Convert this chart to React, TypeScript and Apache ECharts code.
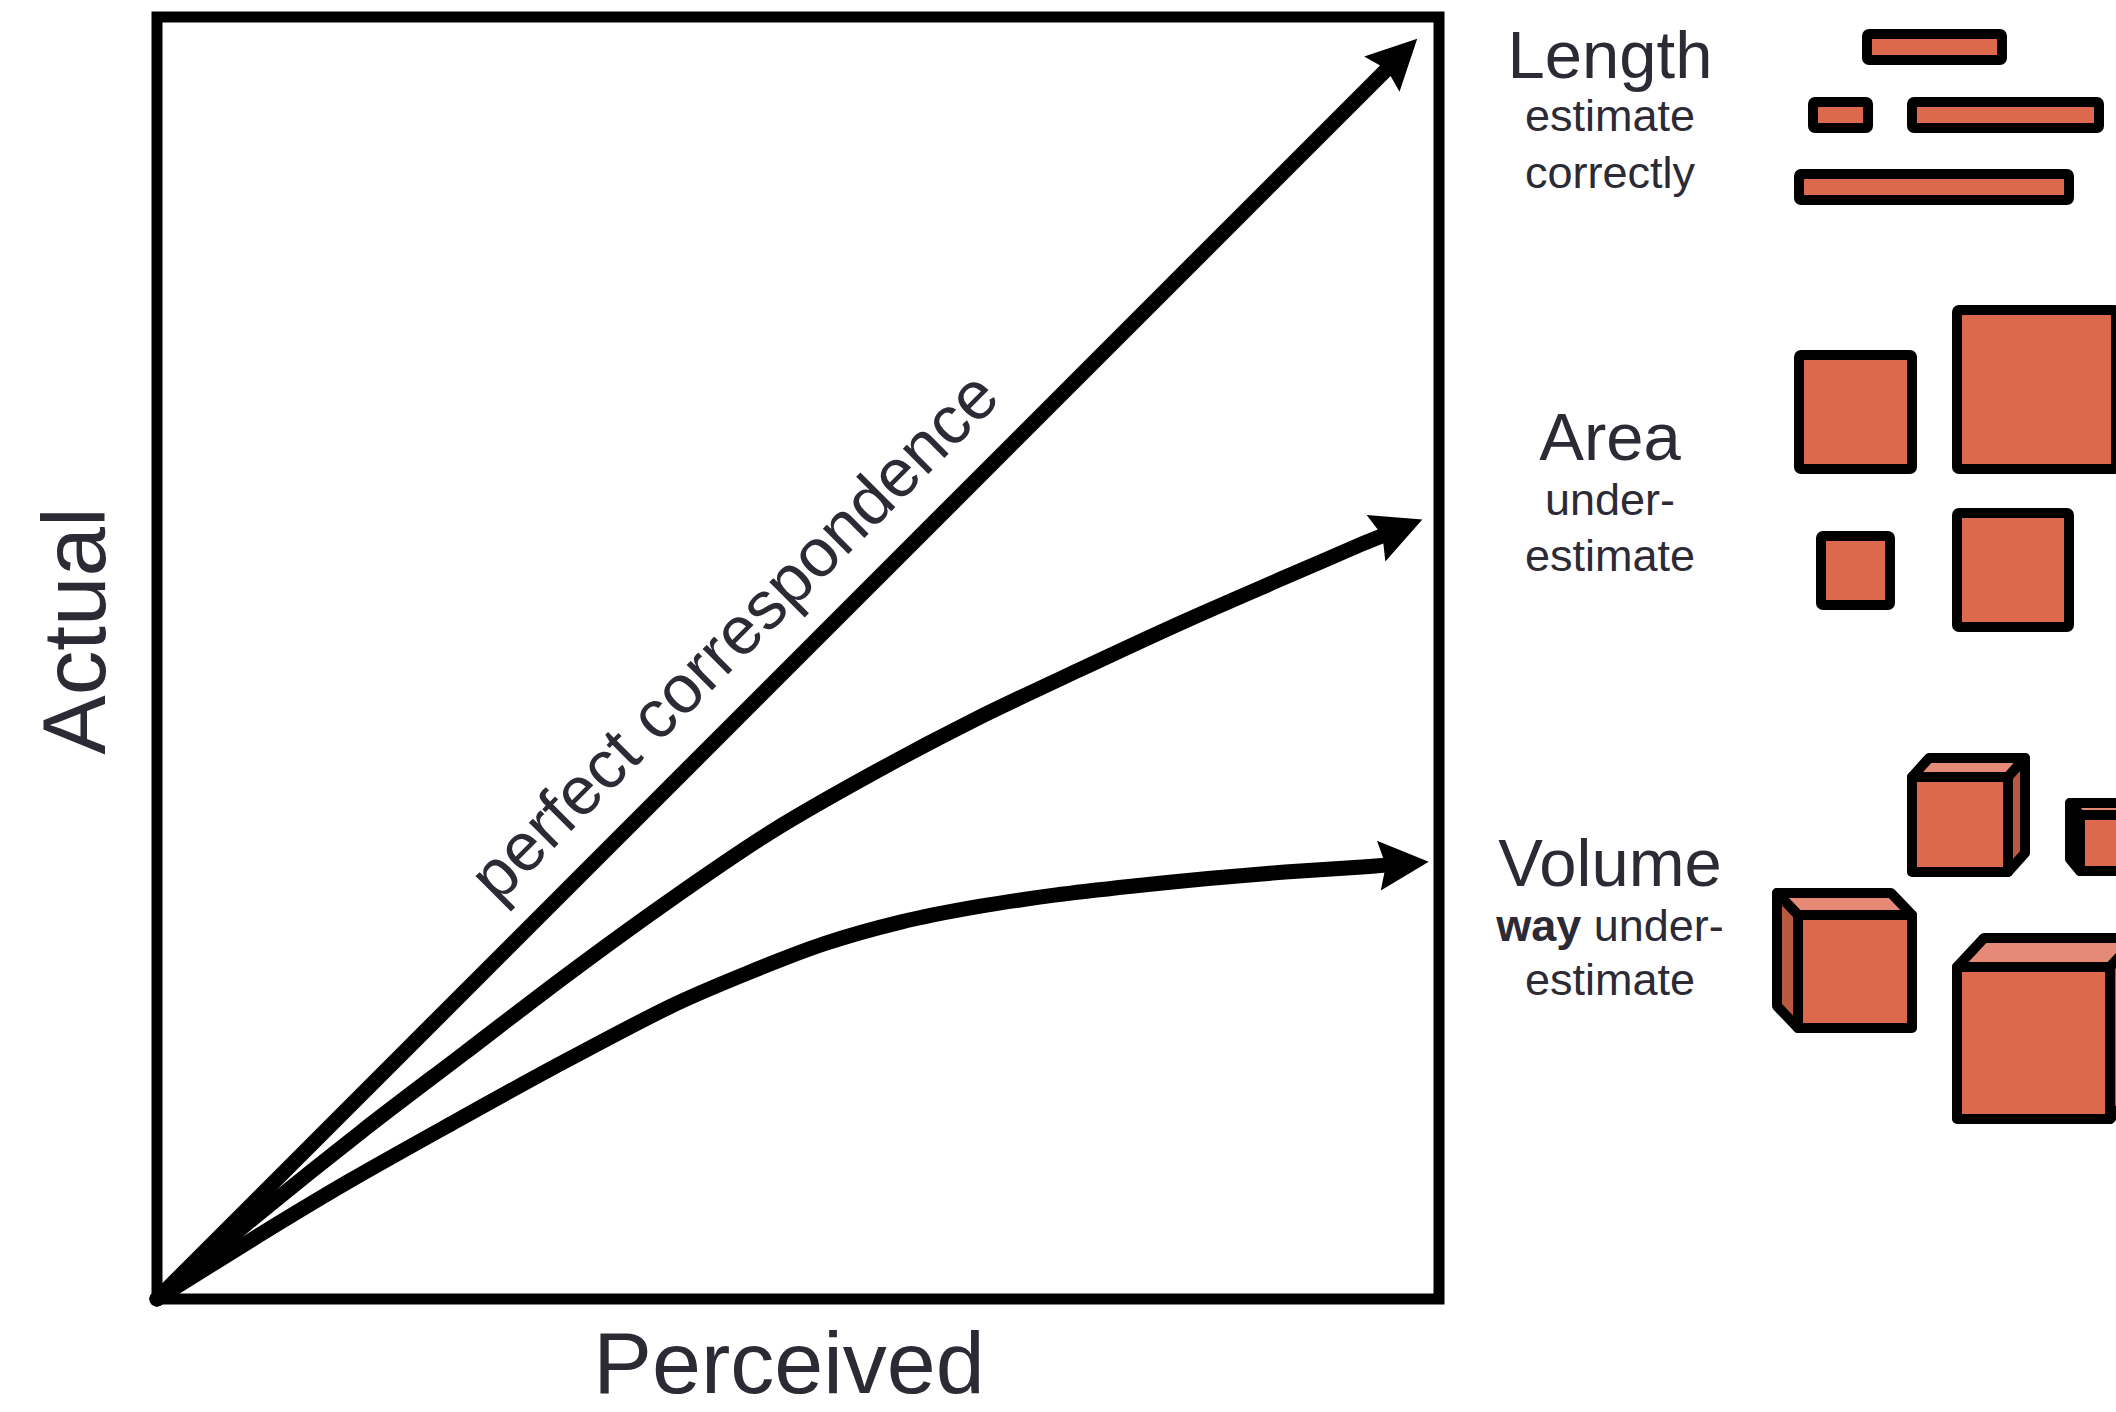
import React, { useEffect, useRef } from "react";
import * as echarts from "echarts";

// ---- data (unit square: 0 = origin, 1 = full scale) ----
const perfectCurve: number[][] = [
  [0, 0],
  [0.983, 0.983],
];
const areaCurve: number[][] = [
  [0, 0], [0.08, 0.067], [0.16, 0.131], [0.24, 0.192], [0.32, 0.253],
  [0.4, 0.311], [0.48, 0.365], [0.56, 0.411], [0.64, 0.453], [0.72, 0.491],
  [0.8, 0.528], [0.88, 0.563], [0.94, 0.589], [0.987, 0.608],
];
const volumeCurve: number[][] = [
  [0, 0], [0.08, 0.05], [0.15, 0.092], [0.23, 0.137], [0.31, 0.181],
  [0.4, 0.228], [0.46, 0.254], [0.52, 0.277], [0.58, 0.294], [0.64, 0.306],
  [0.7, 0.315], [0.76, 0.322], [0.82, 0.328], [0.88, 0.333], [0.94, 0.337],
  [0.992, 0.341],
];
const curves = [perfectCurve, areaCurve, volumeCurve];

const xTitle = "Perceived";
const yTitle = "Actual";
const diagonalLabel = "perfect correspondence";
const diagonalLabelAt = [0.4836, 0.4836];

const legendTitles = ["Length", "Area", "Volume"];
const legendNotes = [
  ["estimate", "correctly"],
  ["under-", "estimate"],
  ["{b|way} under-", "estimate"],
];

const INK = "#2b2a35";
const FONT = "'Liberation Sans', Arial, Helvetica, sans-serif";
const FILL = "#dc694c";
const TOP = "#e48a77";
const SIDE = "#b75a40";

function buildGraphics(): any[] {
  const g: any[] = [];
  const titleY = [54, 436, 862];
  const noteY = [
    [115, 172],
    [499, 555],
    [925, 979],
  ];
  legendTitles.forEach((t, i) => {
    g.push({
      type: "text", x: 1610, y: titleY[i],
      style: { text: t, fontSize: 67, fontFamily: FONT, fill: INK, align: "center", verticalAlign: "middle" },
    });
    legendNotes[i].forEach((n, j) => {
      g.push({
        type: "text", x: 1610, y: noteY[i][j],
        style: {
          text: n, fontSize: 45, fontFamily: FONT, fill: INK, align: "center", verticalAlign: "middle",
          rich: { b: { fontSize: 45, fontFamily: FONT, fill: INK, fontWeight: "bold" } },
        },
      });
    });
  });
  const box = (x: number, y: number, w: number, h: number) => ({
    type: "rect",
    shape: { x, y, width: w, height: h, r: 2 },
    style: { fill: FILL, stroke: "#000", lineWidth: 10, lineJoin: "round" },
  });
  // length bars
  g.push(box(1867, 34, 135, 26));
  g.push(box(1813, 102, 55, 26));
  g.push(box(1912, 102, 187, 26));
  g.push(box(1799, 174, 270, 26));
  // area squares
  g.push(box(1799, 355, 113, 114));
  g.push(box(1957, 310, 159, 159));
  g.push(box(1821, 536, 69, 69));
  g.push(box(1957, 513, 112, 114));
  // cubes
  const poly = (pts: number[][], fill: string) => ({
    type: "polygon",
    shape: { points: pts },
    style: { fill, stroke: "#000", lineWidth: 10, lineJoin: "round" },
  });
  const cube = (x0: number, y0: number, x1: number, y1: number, dx: number, dy: number) => {
    const top = [[x0, y0], [x1, y0], [x1 + dx, y0 + dy], [x0 + dx, y0 + dy]];
    const side =
      dx > 0
        ? [[x1, y0], [x1 + dx, y0 + dy], [x1 + dx, y1 + dy], [x1, y1]]
        : [[x0, y0], [x0 + dx, y0 + dy], [x0 + dx, y1 + dy], [x0, y1]];
    g.push(poly(top, TOP));
    g.push(poly(side, SIDE));
    g.push(poly([[x0, y0], [x1, y0], [x1, y1], [x0, y1]], FILL));
  };
  cube(1912, 777, 2008, 872, 17, -19);
  cube(2080, 815, 2175, 871, -10, -12);
  cube(1798, 915, 1912, 1028, -21, -22);
  cube(1957, 967, 2110, 1119, 27, -29);
  return g;
}

export default function App() {
  const ref = useRef<HTMLDivElement>(null);
  useEffect(() => {
    document.body.style.margin = "0";
    const chart = echarts.init(ref.current!, null, { renderer: "svg" });
    const option: any = {
      animation: false,
      backgroundColor: "#ffffff",
      grid: {
        show: true, left: 157, top: 17, width: 1282, height: 1282,
        containLabel: false, outerBoundsMode: "none",
        borderColor: "#000", borderWidth: 11, backgroundColor: "transparent",
      },
      xAxis: {
        type: "value", min: 0, max: 1,
        axisLine: { show: false }, axisTick: { show: false }, axisLabel: { show: false }, splitLine: { show: false },
        name: xTitle, nameLocation: "middle", nameGap: 19,
        nameTextStyle: { fontSize: 88, fontFamily: FONT, color: INK, padding: [0, 18, 0, 0] },
      },
      yAxis: {
        type: "value", min: 0, max: 1,
        axisLine: { show: false }, axisTick: { show: false }, axisLabel: { show: false }, splitLine: { show: false },
        name: yTitle, nameLocation: "middle", nameGap: 39, nameRotate: 90,
        nameTextStyle: { fontSize: 89, fontFamily: FONT, color: INK, padding: [0, 0, 0, 54] },
      },
      series: [
        {
          type: "custom",
          coordinateSystem: "cartesian2d",
          data: curves.map((_, i) => [i]),
          encode: { x: 0 },
          renderItem: (params: any, api: any) => {
            const c = curves[api.value(0) as number];
            const px = c.map((p) => api.coord(p));
            const tip = px[px.length - 1];
            const L = 50, HW = 25, notch = 7;
            let k = px.length - 2;
            while (k > 0 && Math.hypot(tip[0] - px[k][0], tip[1] - px[k][1]) < L + 12) k--;
            const r = px[k];
            const dx = tip[0] - r[0], dy = tip[1] - r[1];
            const len = Math.hypot(dx, dy);
            const ux = dx / len, uy = dy / len;
            const nx = -uy, ny = ux;
            const base = [tip[0] - ux * L, tip[1] - uy * L];
            const np = [tip[0] - ux * (L - notch), tip[1] - uy * (L - notch)];
            const shaft = px.slice(0, k + 1).concat([np]);
            return {
              type: "group",
              children: [
                {
                  type: "polyline",
                  shape: { points: shaft, smooth: 0.3 },
                  style: { stroke: "#000", lineWidth: 15, fill: null, lineCap: "round", lineJoin: "round" },
                },
                {
                  type: "polygon",
                  shape: {
                    points: [
                      tip,
                      [base[0] + nx * HW, base[1] + ny * HW],
                      np,
                      [base[0] - nx * HW, base[1] - ny * HW],
                    ],
                  },
                  style: { fill: "#000" },
                },
              ],
            };
          },
        },
        {
          type: "custom",
          coordinateSystem: "cartesian2d",
          data: [diagonalLabelAt],
          renderItem: (params: any, api: any) => {
            const p = api.coord([api.value(0), api.value(1)]);
            const off = 62 / Math.SQRT2;
            return {
              type: "text",
              x: p[0] - off,
              y: p[1] - off,
              rotation: Math.PI / 4,
              style: {
                text: diagonalLabel, fontSize: 68, fontFamily: FONT, fill: INK,
                align: "center", verticalAlign: "middle",
              },
            };
          },
        },
      ],
      graphic: buildGraphics(),
    };
    chart.setOption(option);
    return () => chart.dispose();
  }, []);
  return <div ref={ref} style={{ width: 2116, height: 1412 }} />;
}
